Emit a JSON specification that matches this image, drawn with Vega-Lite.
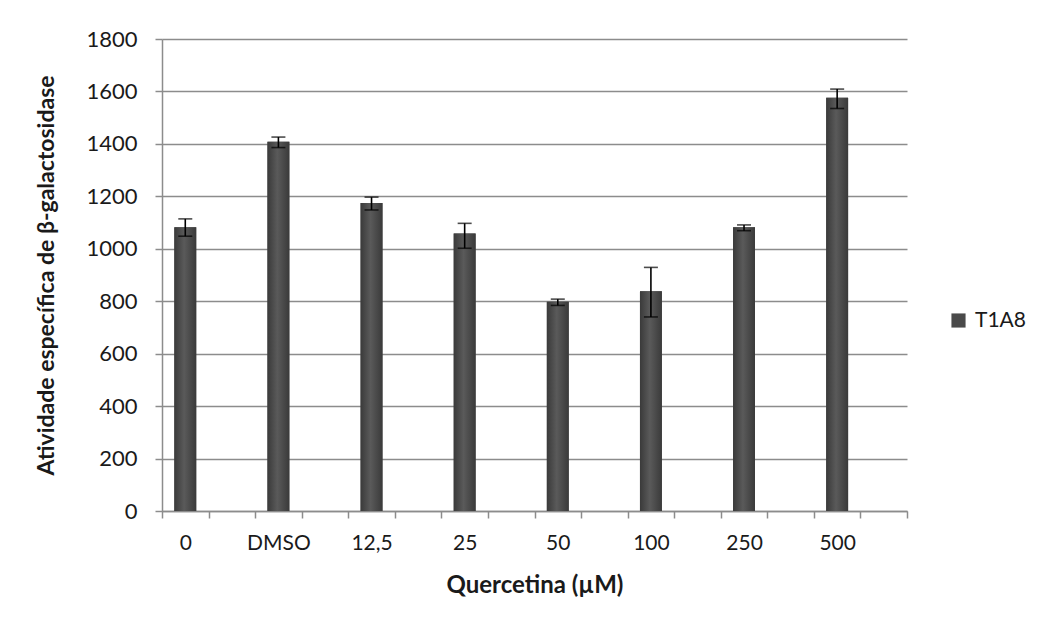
{
  "$schema": "https://vega.github.io/schema/vega-lite/v6.json",
  "width": 745,
  "height": 472,
  "autosize": "none",
  "padding": {"left": 162, "top": 39, "right": 136, "bottom": 117},
  "background": "white",
  "config": {
    "font": "Lato",
    "view": {"stroke": null},
    "axis": {"labelFont": "Lato", "titleFont": "Lato", "labelColor": "#1a1a1a", "titleColor": "#1a1a1a"}
  },
  "data": {
    "values": [
      {"conc": "0", "valor": 1082, "lo": 1048, "hi": 1114, "serie": "T1A8"},
      {"conc": "DMSO", "valor": 1408, "lo": 1386, "hi": 1426, "serie": "T1A8"},
      {"conc": "12,5", "valor": 1175, "lo": 1148, "hi": 1197, "serie": "T1A8"},
      {"conc": "25", "valor": 1058, "lo": 1002, "hi": 1097, "serie": "T1A8"},
      {"conc": "50", "valor": 798, "lo": 784, "hi": 808, "serie": "T1A8"},
      {"conc": "100", "valor": 838, "lo": 740, "hi": 929, "serie": "T1A8"},
      {"conc": "250", "valor": 1082, "lo": 1069, "hi": 1091, "serie": "T1A8"},
      {"conc": "500", "valor": 1576, "lo": 1535, "hi": 1609, "serie": "T1A8"}
    ]
  },
  "encoding": {
    "x": {
      "field": "conc",
      "type": "nominal",
      "sort": null,
      "scale": {
        "domain": ["0", "b1", "DMSO", "b2", "12,5", "b3", "25", "b4", "50", "b5", "100", "b6", "250", "b7", "500", "b8"],
        "paddingInner": 0,
        "paddingOuter": 0
      },
      "axis": {
        "title": "Quercetina (µM)",
        "titleFontSize": 24,
        "titleFontWeight": "bold",
        "titlePadding": 20,
        "labelFontSize": 21,
        "labelAngle": 0,
        "labelPadding": 14,
        "labelExpr": "indexof(datum.label, 'b') == 0 ? '' : datum.label",
        "tickBand": "extent",
        "tickSize": 7,
        "tickColor": "#8c8c8c",
        "tickWidth": 1.5,
        "domainColor": "#8c8c8c",
        "domainWidth": 1.5,
        "grid": false
      }
    },
    "y": {
      "type": "quantitative",
      "scale": {"domain": [0, 1800], "nice": false},
      "axis": {
        "title": "Atividade específica  de β-galactosidase",
        "titleFontSize": 23,
        "titleFontWeight": "bold",
        "titlePadding": 27,
        "labelFontSize": 22,
        "labelPadding": 18,
        "format": "d",
        "values": [0, 200, 400, 600, 800, 1000, 1200, 1400, 1600, 1800],
        "tickSize": 7,
        "tickColor": "#8c8c8c",
        "tickWidth": 1.5,
        "domainColor": "#8c8c8c",
        "domainWidth": 1.5,
        "grid": true,
        "gridColor": "#8c8c8c",
        "gridWidth": 1.5
      }
    }
  },
  "layer": [
    {
      "mark": {"type": "bar", "width": {"band": 0.47}},
      "encoding": {
        "y": {"field": "valor"},
        "color": {
          "field": "serie",
          "type": "nominal",
          "scale": {"range": ["#4a4a4a"]},
          "legend": {
            "title": null,
            "orient": "none",
            "legendX": 786,
            "legendY": 271,
            "padding": 0,
            "symbolType": "square",
            "symbolSize": 200,
            "symbolStrokeWidth": 0,
            "labelFont": "Lato",
            "labelFontSize": 21,
            "labelColor": "#1a1a1a",
            "labelOffset": 6
          }
        }
      }
    },
    {
      "mark": {
        "type": "bar",
        "width": {"band": 0.47},
        "color": {
          "gradient": "linear",
          "x1": 0, "x2": 1, "y1": 0, "y2": 0,
          "stops": [
            {"offset": 0, "color": "#3a3a3a"},
            {"offset": 0.45, "color": "#5a5a5a"},
            {"offset": 1, "color": "#3a3a3a"}
          ]
        }
      },
      "encoding": {"y": {"field": "valor"}}
    },
    {
      "mark": {"type": "rule", "color": "black", "strokeWidth": 1.6},
      "encoding": {"y": {"field": "lo"}, "y2": {"field": "hi"}}
    },
    {
      "mark": {"type": "tick", "color": "black", "thickness": 1.6, "size": 14, "orient": "horizontal"},
      "encoding": {"y": {"field": "lo"}}
    },
    {
      "mark": {"type": "tick", "color": "black", "thickness": 1.6, "size": 14, "orient": "horizontal"},
      "encoding": {"y": {"field": "hi"}}
    }
  ]
}
